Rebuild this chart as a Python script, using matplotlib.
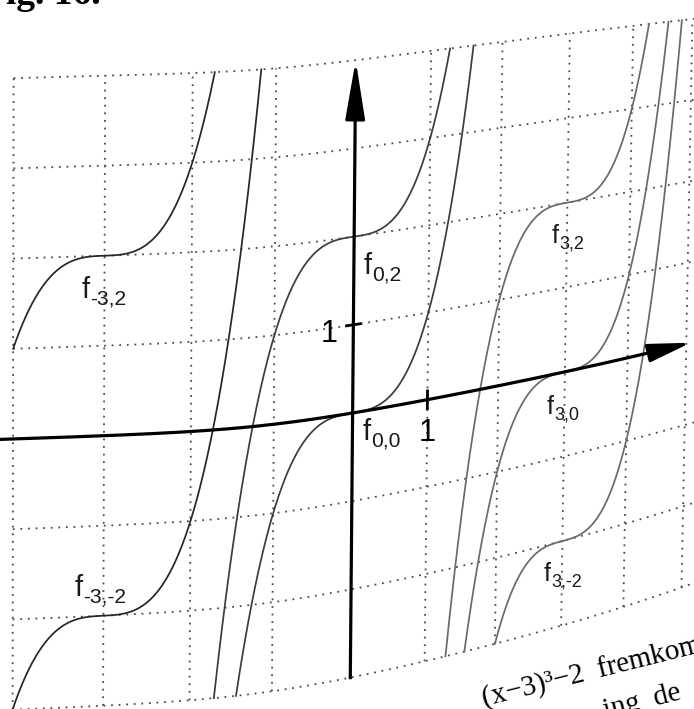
import numpy as np
import matplotlib.pyplot as plt
from matplotlib.transforms import Transform

plt.rcParams['font.family'] = ['Liberation Sans', 'DejaVu Sans']

# f_{a,b}(x) = (x - a)^3 + b
shift_a = [-3, -3, 0, 0, 3, 3, 3]
shift_b = [2, -2, 2, 0, 2, 0, -2]
subscripts = ['-3,2', '-3,-2', '0,2', '0,0', '3,2', '3,0', '3,-2']

x_min, x_max = -4, 5
y_min, y_max = -3, 4


class PageWarp(Transform):
    # maps (x, y) onto the bent page, in pixel units
    input_dims = output_dims = 2

    def transform_non_affine(self, values):
        v = np.asarray(values, dtype=float)
        x, y = v[:, 0], v[:, 1]
        px = 353 + 76.9 * x - 2.02 * x ** 2 + (1 + 1.1 * (x + 4)) * (y - 0.5) / 7
        y0 = 415.86 - 8.5 * x - 6.6 * np.log(np.cosh((x + 1.2) / 1.2))
        step = 88.2 - 0.9 * x - 0.1 * x ** 2
        return np.column_stack([px, y0 - step * y])


fig = plt.figure(figsize=(6.94, 7.09), dpi=100)
ax = fig.add_axes([0, 0, 1, 1])
ax.set_xlim(0, 694)
ax.set_ylim(709, 0)
ax.axis('off')
page = PageWarp() + ax.transData

# dotted grid
grid_kw = dict(color='#4a4a4a', lw=1.3, ls=(0, (1, 3.2)), transform=page)
t = np.linspace(x_min, x_max + 0.3, 200)
for gy in range(y_min, y_max + 1):
    if gy != 0:
        ax.plot(t, np.full_like(t, gy), **grid_kw)
s = np.linspace(y_min, y_max, 200)
for gx in range(x_min, x_max + 1):
    if gx != 0:
        ax.plot(np.full_like(s, gx), s, **grid_kw)

# the cubic curves, cut at the window edges
shades = {-3: '#262626', 0: '#3c3c3c', 3: '#6a6a6a'}
for a, b in zip(shift_a, shift_b):
    lo = max(x_min, a + np.cbrt(y_min - b))
    hi = min(x_max, a + np.cbrt(y_max - b))
    xs = np.linspace(lo, hi, 400)
    ax.plot(xs, (xs - a) ** 3 + b, color=shades[a], lw=1.25, transform=page)

# axes with arrows
xa = np.linspace(-4.4, 4.8, 300)
ax.plot(xa, np.zeros_like(xa), color='black', lw=2.3, transform=page)
ax.plot([0, 0], [y_min, 3.5], color='black', lw=2.3, transform=page)
arrow = dict(arrowstyle='-|>,head_length=1.3,head_width=0.28', lw=2.3,
             color='black', mutation_scale=20, shrinkA=0, shrinkB=0)
ax.annotate('', xy=(5.08, 0), xytext=(4.6, 0), xycoords=page, arrowprops=arrow)
ax.annotate('', xy=(0, 4), xytext=(0, 3.4), xycoords=page,
            arrowprops=dict(arrow, arrowstyle='-|>,head_length=1.8,head_width=0.3'))

# unit ticks
ax.plot([-0.09, 0.09], [1, 1], color='black', lw=2, transform=page)
ax.plot([1, 1], [-0.1, 0.1], color='black', lw=2, transform=page)
ax.text(-0.31, 0.94, '1', fontsize=22, ha='center', va='center', transform=page)
ax.text(1.0, -0.38, '1', fontsize=22, ha='center', va='center', transform=page)

# curve names: "f" with a lowered index, anchored at the left baseline of the f
offsets = {(-3, 2): (-0.25, -0.46), (-3, -2): (-0.32, 0.23), (0, 2): (0.13, -0.44),
           (0, 0): (0.13, -0.33), (3, 2): (-0.23, -0.44), (3, 0): (-0.27, -0.45),
           (3, -2): (-0.28, -0.42)}
for a, b, sub in zip(shift_a, shift_b, subscripts):
    dx, dy = offsets[(a, b)]
    size = 21 if a < 3 else 18
    pos = (a + dx, b + dy)
    ax.annotate('f', xy=pos, xycoords=page, fontsize=size, color='#1a1a1a',
                ha='left', va='baseline')
    ax.annotate(sub, xy=pos, xycoords=page, xytext=(0.29 * size, -0.22 * size),
                textcoords='offset points', fontsize=0.72 * size, color='#1a1a1a',
                ha='left', va='baseline')

# bits of the book page around the figure
ax.text(-17, 4, 'Fig. 16.', fontsize=27, fontweight='bold',
        family='Liberation Serif', va='baseline', ha='left')
ax.text(484, 707, '(x\u22123)\u00b3\u22122  fremkom', fontsize=21,
        family='Liberation Serif', rotation=14, rotation_mode='anchor',
        va='baseline', ha='left')
ax.text(606, 718, 'ing  de', fontsize=21, family='Liberation Serif',
        rotation=14, rotation_mode='anchor', va='baseline', ha='left')

fig.savefig('out.png', dpi=100)
